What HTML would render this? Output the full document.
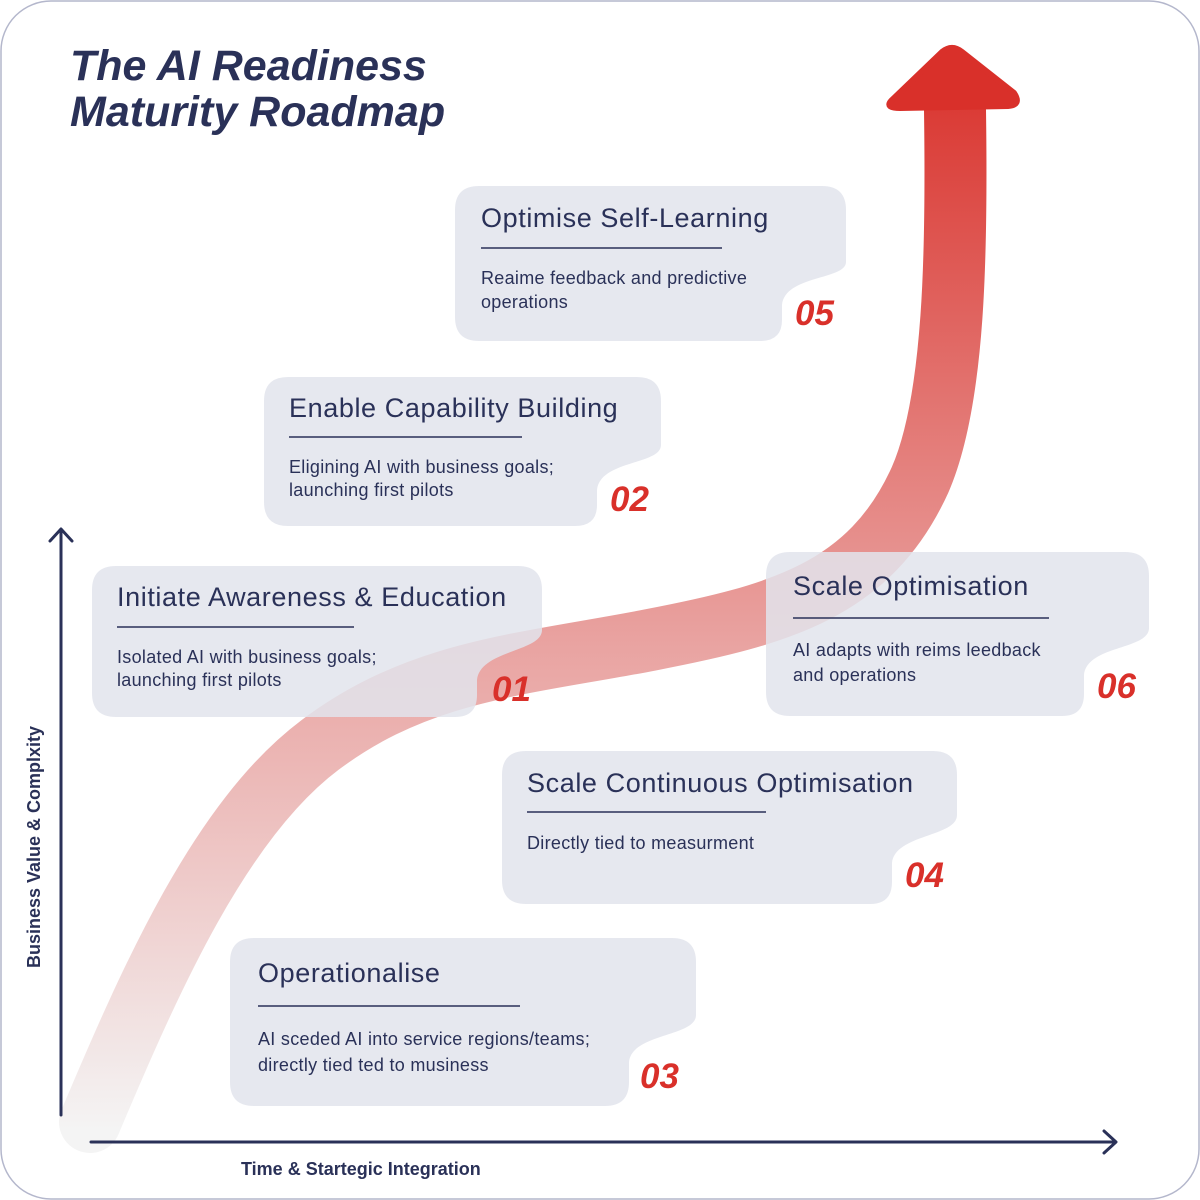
<!DOCTYPE html>
<html><head><meta charset="utf-8"><style>
html,body{margin:0;padding:0;background:#fff;}
svg{display:block;font-family:"Liberation Sans",sans-serif;}
.t{font-size:27px;fill:#2a3158;font-weight:500;letter-spacing:0.6px}
.b{font-size:18px;fill:#2a3158;letter-spacing:0.3px}
.n{font-size:35px;fill:#d9302a;font-weight:bold;font-style:italic}
</style></head><body>
<svg width="1200" height="1200" viewBox="0 0 1200 1200">
<defs>
<linearGradient id="g" gradientUnits="userSpaceOnUse" x1="0" y1="1130" x2="0" y2="50">
<stop offset="0" stop-color="#f4f4f4"/>
<stop offset="0.45" stop-color="#e9a3a1"/>
<stop offset="1" stop-color="#d9302a"/>
</linearGradient>
</defs>
<rect x="1" y="1" width="1198" height="1198" rx="50" fill="#fff" stroke="#b4b7cc" stroke-width="1.5"/>
<text x="70" y="80" font-size="43" font-style="italic" font-weight="600" fill="#2a3158">The AI Readiness</text>
<text x="70" y="126" font-size="43" font-style="italic" font-weight="600" fill="#2a3158">Maturity Roadmap</text>

<path d="M90,1122 C150,980 220,820 320,745 C420,670 520,665 650,640 C780,615 870,590 920,480 C955,400 957,250 955,110" fill="none" stroke="url(#g)" stroke-width="62" stroke-linecap="round"/>
<path d="M892,100 L942,52 Q952,44 962,52 L1014,93 Q1022,105 1008,106 L900,108 Q884,108 892,100 Z" fill="#d9302a" stroke="#d9302a" stroke-width="6" stroke-linejoin="round"/>

<g fill="rgba(226,228,236,0.85)">
<path d="M479,186 H822 Q846,186 846,210 V262 C846,280 785,275 782,305 V320 Q782,341 760,341 H479 Q455,341 455,317 V210 Q455,186 479,186 Z"/>
<path d="M288,377 H637 Q661,377 661,401 V445 C661,465 600,460 597,490 V505 Q597,526 575,526 H288 Q264,526 264,502 V401 Q264,377 288,377 Z"/>
<path d="M116,566 H518 Q542,566 542,590 V630 C542,652 480,650 477,680 V695 Q477,717 455,717 H116 Q92,717 92,693 V590 Q92,566 116,566 Z"/>
<path d="M790,552 H1125 Q1149,552 1149,576 V628 C1149,650 1087,645 1084,675 V694 Q1084,716 1062,716 H790 Q766,716 766,692 V576 Q766,552 790,552 Z"/>
<path d="M526,751 H933 Q957,751 957,775 V815 C957,837 895,834 892,863 V882 Q892,904 870,904 H526 Q502,904 502,880 V775 Q502,751 526,751 Z"/>
<path d="M254,938 H672 Q696,938 696,962 V1015 C696,1037 632,1033 629,1062 V1082 Q629,1106 605,1106 H254 Q230,1106 230,1082 V962 Q230,938 254,938 Z"/>
</g>

<g stroke="#2a3158" stroke-width="1.5">
<line x1="481" y1="248" x2="722" y2="248"/>
<line x1="289" y1="437" x2="522" y2="437"/>
<line x1="117" y1="627" x2="354" y2="627"/>
<line x1="793" y1="618" x2="1049" y2="618"/>
<line x1="527" y1="812" x2="766" y2="812"/>
<line x1="258" y1="1006" x2="520" y2="1006"/>
</g>

<text class="t" x="481" y="227">Optimise Self-Learning</text>
<text class="b" x="481" y="284">Reaime feedback and predictive</text>
<text class="b" x="481" y="308">operations</text>
<text class="n" x="795" y="325">05</text>

<text class="t" x="289" y="417">Enable Capability Building</text>
<text class="b" x="289" y="473">Eligining AI with business goals;</text>
<text class="b" x="289" y="496">launching first pilots</text>
<text class="n" x="610" y="511">02</text>

<text class="t" x="117" y="606">Initiate Awareness &amp; Education</text>
<text class="b" x="117" y="663">Isolated AI with business goals;</text>
<text class="b" x="117" y="686">launching first pilots</text>
<text class="n" x="492" y="701">01</text>

<text class="t" x="793" y="595">Scale Optimisation</text>
<text class="b" x="793" y="656">AI adapts with reims leedback</text>
<text class="b" x="793" y="681">and operations</text>
<text class="n" x="1097" y="698">06</text>

<text class="t" x="527" y="792">Scale Continuous Optimisation</text>
<text class="b" x="527" y="849">Directly tied to measurment</text>
<text class="n" x="905" y="887">04</text>

<text class="t" x="258" y="982">Operationalise</text>
<text class="b" x="258" y="1045">AI sceded AI into service regions/teams;</text>
<text class="b" x="258" y="1071">directly tied ted to musiness</text>
<text class="n" x="640" y="1088">03</text>

<g stroke="#2a3158" stroke-width="3" fill="none" stroke-linecap="round" stroke-linejoin="round">
<line x1="61" y1="1115" x2="61" y2="530"/>
<polyline points="50,541 61,529 72,541"/>
<line x1="91" y1="1142" x2="1115" y2="1142"/>
<polyline points="1104,1131 1116,1142 1104,1153"/>
</g>
<text x="0" y="0" font-size="18" font-weight="bold" fill="#2a3158" text-anchor="middle" transform="translate(40,847) rotate(-90)">Business Value &amp; Complxity</text>
<text x="241" y="1175" font-size="18" font-weight="bold" fill="#2a3158">Time &amp; Startegic Integration</text>
</svg>
</body></html>
